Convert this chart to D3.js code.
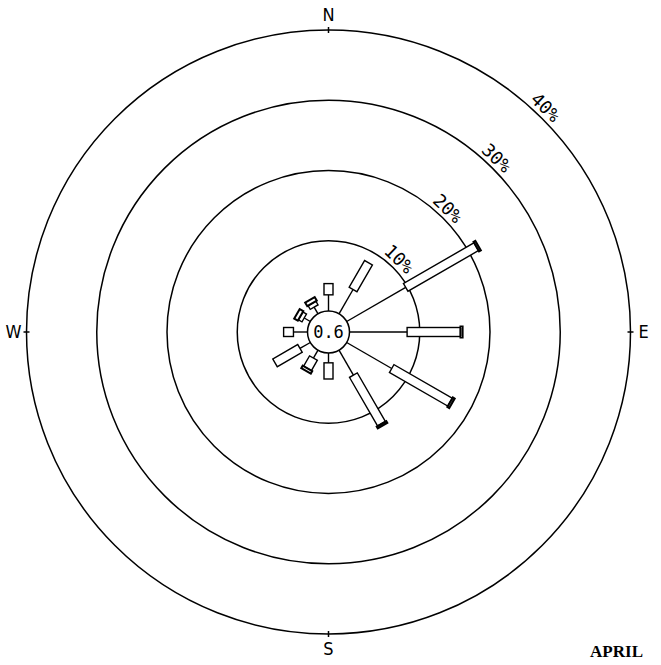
<!DOCTYPE html>
<html>
<head>
<meta charset="utf-8">
<script src="https://cdn.jsdelivr.net/npm/d3@7"></script>
<style>
  body { margin: 0; background: #fff; }
  svg { display: block; }
</style>
</head>
<body>
<svg id="rose" width="661" height="665"></svg>
<script>
// Wind rose - April, % frequency by direction

// direction bearings (deg clockwise from north)
var bearings = [0, 30, 60, 90, 120, 150, 180, 210, 240, 270, 300, 330]
// speed class 1 (thin line), class 2 (open box), class 3 (wide end box), in %
var class1 = [2.3, 4.0, 9.7, 8.2, 7.4, 4.1, 1.4, 1.3, 1.7, 2.0, 1.0, 1.1]
var class2 = [1.6, 4.4, 11.6, 7.6, 9.6, 8.0, 2.3, 1.7, 4.1, 1.4, 0.6, 0.6]
var class3 = [0, 0, 0.3, 0.3, 0.3, 0.3, 0, 0.4, 0, 0, 0.6, 0.6]
var rings = [10, 20, 30, 40]
var ringLabels = ['10%', '20%', '30%', '40%']
var calm = '0.6'
var compass = [{t: 'N', a: 0}, {t: 'E', a: 90}, {t: 'S', a: 180}, {t: 'W', a: 270}]
var month = 'APRIL'

var svg = d3.select('#rose'),
	cx = 328.5, cy = 332,
	g = svg.append('g').attr('transform', 'translate(' + cx + ',' + cy + ')')

// radius scale: calm circle is the 0% ring
var r = d3.scaleLinear().domain([0, 40]).range([21, 302])

var ink = '#000'

// percent rings
g.selectAll('circle.ring').data(rings)
	.enter().append('circle')
	.attr('class', 'ring')
	.attr('r', function(d) { return r(d) })
	.attr('fill', 'none').attr('stroke', ink).attr('stroke-width', 1.5)

// ring labels along 45 deg
g.selectAll('text.ringlab').data(rings)
	.enter().append('text')
	.attr('class', 'ringlab')
	.attr('transform', function(d) { return 'rotate(44) translate(0,' + (-(r(d) + 4)) + ')' })
	.attr('text-anchor', 'middle')
	.style('font-family', '"DejaVu Sans Mono", monospace')
	.style('font-size', '18px')
	.attr('fill', ink)
	.text(function(d, i) { return ringLabels[i] })

// cardinal ticks and letters
var card = g.selectAll('g.card').data(compass).enter().append('g')
card.append('line')
	.attr('transform', function(d) { return 'rotate(' + d.a + ')' })
	.attr('x1', 0).attr('x2', 0)
	.attr('y1', -r(40) - 3).attr('y2', -r(40) + 3)
	.attr('stroke', ink).attr('stroke-width', 1.5)
card.append('text')
	.attr('x', function(d) { return Math.sin(d.a * Math.PI / 180) * (r(40) + 13) })
	.attr('y', function(d) { return -Math.cos(d.a * Math.PI / 180) * (r(40) + 15) })
	.attr('dy', '0.36em')
	.attr('text-anchor', 'middle')
	.style('font-family', '"Liberation Sans Narrow", "DejaVu Sans Condensed", sans-serif')
	.style('font-size', '18px')
	.attr('fill', ink)
	.text(function(d) { return d.t })

// rays
var rays = g.selectAll('g.ray').data(bearings)
	.enter().append('g')
	.attr('class', 'ray')
	.attr('transform', function(d) { return 'rotate(' + d + ')' })

rays.append('line')
	.attr('x1', 0).attr('x2', 0)
	.attr('y1', -r(0))
	.attr('y2', function(d, i) { return -r(class1[i]) })
	.attr('stroke', ink).attr('stroke-width', 1.4)

rays.append('rect')
	.attr('x', -4.5).attr('width', 9)
	.attr('y', function(d, i) { return -r(class1[i] + class2[i]) })
	.attr('height', function(d, i) { return r(class1[i] + class2[i]) - r(class1[i]) })
	.attr('fill', '#fff').attr('stroke', ink).attr('stroke-width', 1.4)

rays.filter(function(d, i) { return class3[i] > 0 }).append('rect')
	.attr('x', -5.5).attr('width', 11)
	.attr('y', function(d) { var i = bearings.indexOf(d); return -r(class1[i] + class2[i] + class3[i]) })
	.attr('height', function(d) { var i = bearings.indexOf(d); return r(class1[i] + class2[i] + class3[i]) - r(class1[i] + class2[i]) })
	.attr('fill', '#fff').attr('stroke', ink).attr('stroke-width', 2)

// calm circle
g.append('circle').attr('r', r(0))
	.attr('fill', '#fff').attr('stroke', ink).attr('stroke-width', 1.5)
g.append('text').text(calm)
	.attr('text-anchor', 'middle').attr('dy', '0.36em')
	.style('font-family', '"DejaVu Sans Mono", monospace')
	.style('font-size', '17px')
	.attr('fill', ink)

// month caption
svg.append('text').text(month)
	.attr('x', 643).attr('y', 657)
	.attr('text-anchor', 'end')
	.style('font-family', '"Liberation Serif", "Times New Roman", serif')
	.style('font-weight', 'bold')
	.style('font-size', '17px')
	.attr('fill', ink)
</script>
</body>
</html>
